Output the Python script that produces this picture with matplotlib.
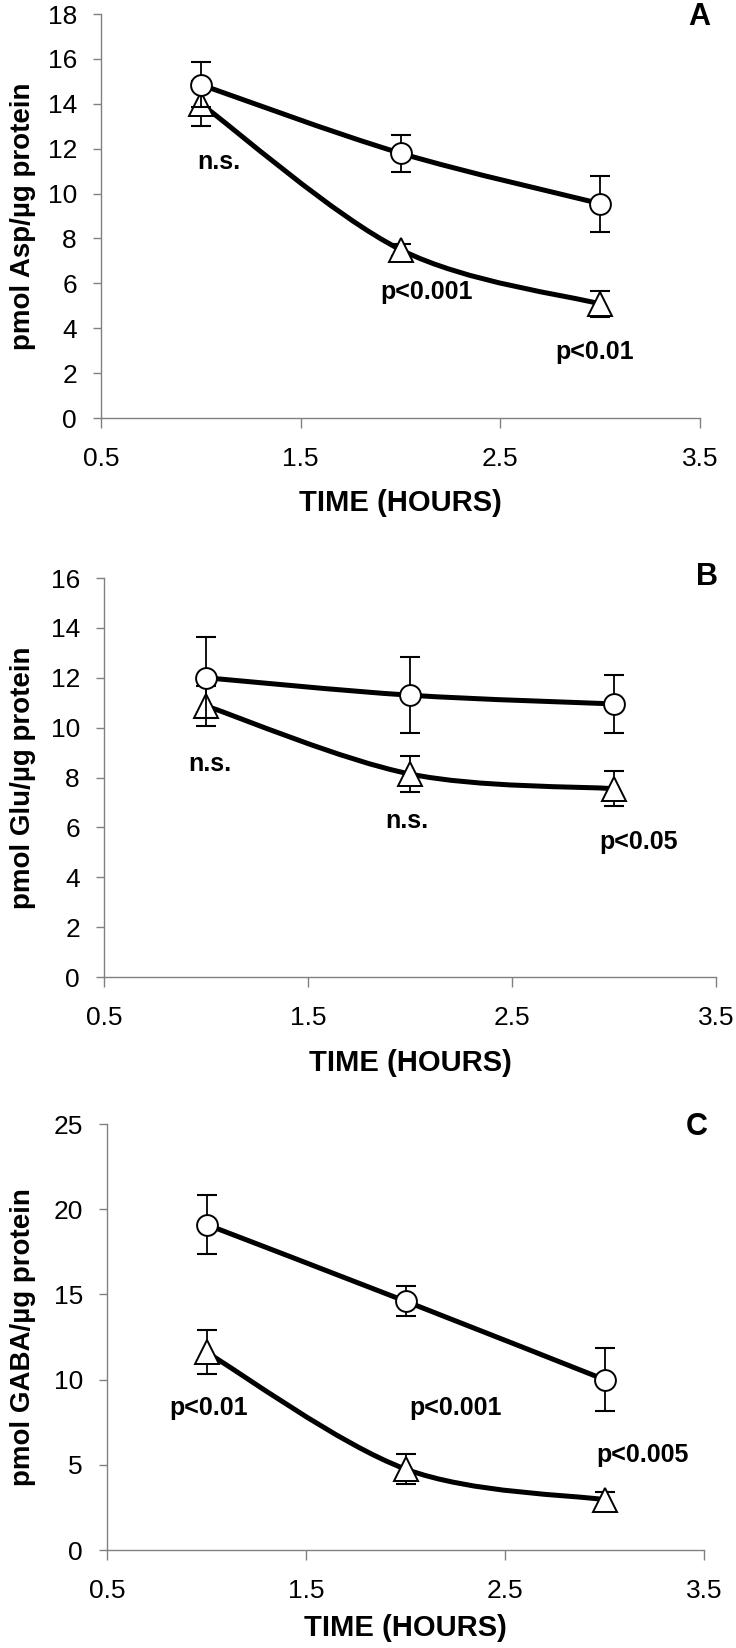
import matplotlib
matplotlib.use('Agg')
import matplotlib.pyplot as plt
from matplotlib.path import Path
from matplotlib.patches import PathPatch
import numpy as np

plt.rcParams['font.family'] = ['Liberation Sans', 'DejaVu Sans']

# ---------------- data ----------------
time_hours = [1, 2, 3]

asp_control = [14.85, 11.8, 9.55]
asp_control_err = [1.0, 0.82, 1.25]
asp_treated = [14.0, 7.5, 5.08]
asp_treated_err = [1.0, 0.26, 0.6]

glu_control = [12.0, 11.3, 10.95]
glu_control_err = [1.63, 1.53, 1.18]
glu_treated = [10.87, 8.14, 7.55]
glu_treated_err = [0.8, 0.73, 0.7]

gaba_control = [19.1, 14.6, 10.0]
gaba_control_err = [1.75, 0.87, 1.86]
gaba_treated = [11.6, 4.75, 2.95]
gaba_treated_err = [1.3, 0.9, 0.45]

panel_letters = ['A', 'B', 'C']
y_labels = ['pmol Asp/\u00b5g protein', 'pmol Glu/\u00b5g protein', 'pmol GABA/\u00b5g protein']
y_max = [18, 16, 25]
y_step = [2, 2, 5]
x_ticks = [0.5, 1.5, 2.5, 3.5]
x_label = 'TIME (HOURS)'

asp_notes = ['n.s.', 'p<0.001', 'p<0.01']
asp_note_x = [1.09, 2.13, 2.97]
asp_note_y = [11.4, 5.6, 2.94]
glu_notes = ['n.s.', 'n.s.', 'p<0.05']
glu_note_x = [1.02, 1.985, 3.12]
glu_note_y = [8.55, 6.26, 5.4]
gaba_notes = ['p<0.01', 'p<0.001', 'p<0.005']
gaba_note_x = [1.01, 2.25, 3.19]
gaba_note_y = [8.33, 8.33, 5.6]

# ---------------- layout (pixels) ----------------
W, H = 736, 1648
axes_px = [  # left, right, top, bottom
    (101, 700, 14, 418),
    (104, 716, 578, 977),
    (107, 704, 1124, 1550),
]
letter_px = [(699, 17), (707, 577), (697, 1127)]
xlabel_px = [503, 1063, 1628]
ylabel_x_px = 23

fig = plt.figure(figsize=(W / 100, H / 100), dpi=100)

GRAY = '#808080'


def smooth_path(xs, ys):
    pts = np.column_stack([xs, ys]).astype(float)
    n = len(pts)
    verts = [pts[0]]
    codes = [Path.MOVETO]
    for i in range(n - 1):
        p0 = pts[i - 1] if i > 0 else pts[i]
        p1 = pts[i]
        p2 = pts[i + 1]
        p3 = pts[i + 2] if i + 2 < n else pts[i + 1]
        c1 = p1 + (p2 - p0) / 6.0
        c2 = p2 - (p3 - p1) / 6.0
        verts += [c1, c2, p2]
        codes += [Path.CURVE4] * 3
    return Path(verts, codes)


panels = [
    (asp_control, asp_control_err, asp_treated, asp_treated_err, asp_notes, asp_note_x, asp_note_y),
    (glu_control, glu_control_err, glu_treated, glu_treated_err, glu_notes, glu_note_x, glu_note_y),
    (gaba_control, gaba_control_err, gaba_treated, gaba_treated_err, gaba_notes, gaba_note_x, gaba_note_y),
]

for k, (ctl, ctl_e, trt, trt_e, notes, nx, ny) in enumerate(panels):
    l, r, t, b = axes_px[k]
    ax = fig.add_axes([l / W, 1 - b / H, (r - l) / W, (b - t) / H])
    ax.set_xlim(0.5, 3.5)
    ax.set_ylim(0, y_max[k])
    ax.set_xticks(x_ticks)
    ax.set_xticklabels([f'{v:.1f}' for v in x_ticks])
    ax.set_yticks(np.arange(0, y_max[k] + 0.01, y_step[k]))
    for s in ['top', 'right']:
        ax.spines[s].set_visible(False)
    for s in ['left', 'bottom']:
        ax.spines[s].set_color(GRAY)
        ax.spines[s].set_linewidth(1.0)
    ax.tick_params(axis='y', direction='out', length=5.8, width=1.0, color=GRAY,
                   labelsize=19, pad=11.5)
    ax.tick_params(axis='x', direction='out', length=7.2, width=1.0, color=GRAY,
                   labelsize=19, pad=14)

    # smoothed lines
    for ys in (trt, ctl):
        ax.add_patch(PathPatch(smooth_path(time_hours, ys), facecolor='none',
                               edgecolor='black', lw=3.6, zorder=2,
                               capstyle='round', joinstyle='round'))

    # treated (triangles)
    ax.errorbar(time_hours, trt, yerr=trt_e, fmt='none', ecolor='black',
                elinewidth=1.3, capsize=7.5, capthick=1.5, zorder=3)
    ax.plot(time_hours, trt, linestyle='none', marker='^', ms=17,
            mfc='white', mec='black', mew=1.4, zorder=4)
    # control (circles)
    ax.errorbar(time_hours, ctl, yerr=ctl_e, fmt='none', ecolor='black',
                elinewidth=1.3, capsize=7.5, capthick=1.5, zorder=5)
    ax.plot(time_hours, ctl, linestyle='none', marker='o', ms=15,
            mfc='white', mec='black', mew=1.4, zorder=6)

    for txt, xx, yy in zip(notes, nx, ny):
        ax.text(xx, yy, txt, ha='center', va='center', fontsize=18,
                fontweight='bold', clip_on=False, zorder=7)

    ax.set_ylabel(y_labels[k], fontsize=20, fontweight='bold')
    ax.yaxis.label.set_va('center')
    ax.yaxis.set_label_coords((ylabel_x_px - l) / (r - l), 0.5)
    ax.set_xlabel(x_label, fontsize=21, fontweight='bold')
    ax.xaxis.label.set_va('center')
    ax.xaxis.set_label_coords(0.5, 1 - (xlabel_px[k] - t) / (b - t))

    lx, ly = letter_px[k]
    fig.text(lx / W, 1 - ly / H, panel_letters[k], ha='center', va='center',
             fontsize=22, fontweight='bold')

fig.savefig('out.png', dpi=100, facecolor='white')
